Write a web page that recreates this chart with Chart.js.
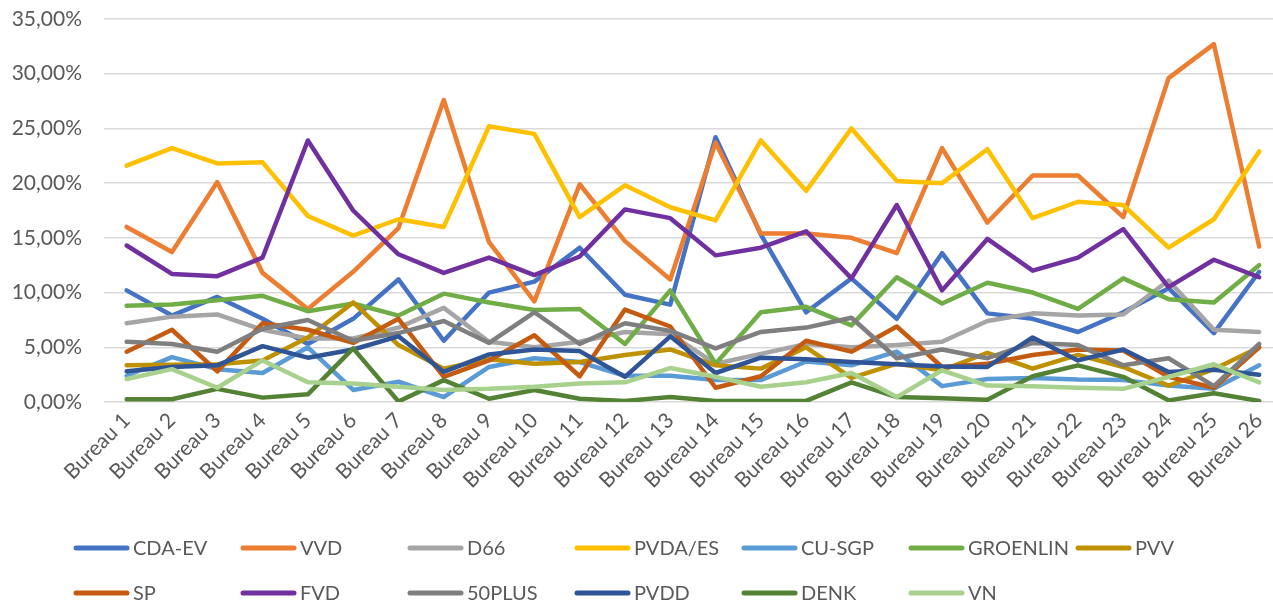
<!DOCTYPE html>
<html>
<head>
<meta charset="utf-8">
<script src="https://cdn.jsdelivr.net/npm/chart.js@4.4.1/dist/chart.umd.min.js"></script>
<style>
  html, body { margin: 0; padding: 0; background: #fff; overflow: hidden; }
  #wrap { width: 1283px; height: 605px; }
</style>
</head>
<body>
<div id="wrap"><canvas id="chart" width="1283" height="605"></canvas></div>
<script>
// ===== DATA =====
let bureaus = [];
for (let i = 1; i <= 26; i++) bureaus.push("Bureau " + i);

let parties = ["CDA-EV", "VVD", "D66", "PVDA/ES", "CU-SGP", "GROENLIN", "PVV",
               "SP", "FVD", "50PLUS", "PVDD", "DENK", "VN"];

let cdaEv    = [10.2, 7.9, 9.6, 7.6, 5.3, 7.6, 11.2, 5.6, 10.0, 11.0, 14.1, 9.8, 8.9, 24.2, 15.3, 8.2, 11.3, 7.6, 13.6, 8.1, 7.6, 6.4, 8.2, 10.4, 6.3, 11.9];
let vvd      = [16.0, 13.7, 20.1, 11.8, 8.5, 11.9, 15.9, 27.6, 14.6, 9.2, 19.9, 14.7, 11.2, 23.7, 15.4, 15.4, 15.0, 13.6, 23.2, 16.4, 20.7, 20.7, 16.9, 29.6, 32.7, 14.2];
let d66      = [7.2, 7.8, 8.0, 6.6, 5.8, 5.8, 6.8, 8.6, 5.5, 5.0, 5.5, 6.4, 6.2, 3.5, 4.4, 5.3, 5.0, 5.2, 5.5, 7.4, 8.1, 7.9, 8.0, 11.1, 6.6, 6.4];
let pvdaEs   = [21.6, 23.2, 21.8, 21.9, 17.0, 15.2, 16.7, 16.0, 25.2, 24.5, 16.9, 19.8, 17.8, 16.6, 23.9, 19.3, 25.0, 20.2, 20.0, 23.1, 16.8, 18.3, 18.0, 14.1, 16.7, 22.9];
let cuSgp    = [2.4, 4.1, 3.0, 2.65, 5.0, 1.1, 1.85, 0.45, 3.2, 4.0, 3.65, 2.4, 2.4, 2.0, 2.0, 3.7, 3.35, 4.6, 1.45, 2.1, 2.2, 2.05, 2.0, 1.5, 1.2, 3.35];
let groenlin = [8.8, 8.9, 9.3, 9.7, 8.3, 9.0, 7.9, 9.9, 9.1, 8.4, 8.5, 5.3, 10.2, 3.5, 8.2, 8.7, 7.0, 11.4, 9.0, 10.9, 10.0, 8.5, 11.3, 9.4, 9.1, 12.5];
let pvv      = [3.35, 3.4, 3.45, 3.8, 5.9, 9.1, 5.2, 3.05, 3.9, 3.5, 3.65, 4.3, 4.8, 3.35, 3.05, 5.0, 2.2, 3.5, 2.9, 4.5, 3.05, 4.3, 3.2, 1.5, 3.0, 5.0];
let sp       = [4.6, 6.6, 2.8, 7.2, 6.6, 5.4, 7.6, 2.3, 3.8, 6.1, 2.35, 8.45, 6.9, 1.3, 2.35, 5.6, 4.6, 6.9, 3.2, 3.5, 4.3, 4.8, 4.7, 2.3, 1.3, 5.0];
let fvd      = [14.3, 11.7, 11.5, 13.2, 23.9, 17.5, 13.5, 11.8, 13.2, 11.6, 13.3, 17.6, 16.8, 13.4, 14.1, 15.6, 11.3, 18.0, 10.2, 14.9, 12.0, 13.2, 15.8, 10.5, 13.0, 11.4];
let plus50   = [5.5, 5.3, 4.6, 6.7, 7.5, 5.6, 6.3, 7.4, 5.4, 8.2, 5.3, 7.2, 6.5, 4.9, 6.4, 6.8, 7.7, 4.0, 4.8, 4.0, 5.4, 5.2, 3.35, 4.0, 1.45, 5.3];
let pvdd     = [2.8, 3.2, 3.35, 5.1, 4.05, 4.8, 6.0, 2.75, 4.35, 4.8, 4.65, 2.3, 6.0, 2.65, 4.05, 3.9, 3.65, 3.45, 3.25, 3.2, 5.9, 3.8, 4.8, 2.75, 2.95, 2.5];
let denk     = [0.25, 0.25, 1.2, 0.4, 0.7, 4.9, 0.05, 2.0, 0.3, 1.1, 0.3, 0.1, 0.45, 0.1, 0.1, 0.1, 1.8, 0.45, 0.35, 0.2, 2.35, 3.35, 2.3, 0.15, 0.8, 0.1];
let vn       = [2.1, 3.0, 1.3, 3.8, 1.8, 1.7, 1.4, 1.1, 1.2, 1.4, 1.7, 1.8, 3.1, 2.3, 1.4, 1.8, 2.65, 0.45, 2.9, 1.5, 1.45, 1.3, 1.2, 2.3, 3.45, 1.8];

let values = [cdaEv, vvd, d66, pvdaEs, cuSgp, groenlin, pvv, sp, fvd, plus50, pvdd, denk, vn];

let colors = ["#4472C4", "#ED7D31", "#A5A5A5", "#FFC000", "#5B9BD5", "#70AD47", "#BF9000",
              "#C55A11", "#7030A0", "#7F7F7F", "#2F5597", "#548235", "#A9D18E"];

let yMax = 35, yStep = 5;

// ===== STYLE =====
let FONT = "Lato";
let TEXT_COLOR = "#595959";
let GRID_COLOR = "#D9D9D9";

// legend is laid out in fixed columns like the Excel one
let LEGEND_X0 = 74, LEGEND_COL = 167, LEGEND_PER_ROW = 7;
let LEGEND_ROWS_Y = [548, 593];

function pct(v) {
  return v.toFixed(2).replace(".", ",") + "%";
}

// ===== LEGEND PLUGIN =====
let gridLegend = {
  id: "gridLegend",
  afterDraw(chart) {
    let ctx = chart.ctx;
    ctx.save();
    ctx.font = "20px " + FONT;
    ctx.textBaseline = "middle";
    ctx.textAlign = "left";
    chart.data.datasets.forEach((ds, i) => {
      let col = i % LEGEND_PER_ROW;
      let row = Math.floor(i / LEGEND_PER_ROW);
      let x = LEGEND_X0 + col * LEGEND_COL;
      let y = LEGEND_ROWS_Y[row];
      ctx.strokeStyle = ds.borderColor;
      ctx.lineWidth = 5;
      ctx.lineCap = "round";
      ctx.beginPath();
      ctx.moveTo(x + 2, y);
      ctx.lineTo(x + 53, y);
      ctx.stroke();
      ctx.fillStyle = TEXT_COLOR;
      ctx.fillText(ds.label, x + 59, y + 1);
    });
    ctx.restore();
  }
};

// ===== CHART =====
let datasets = parties.map((p, i) => ({
  label: p,
  data: values[i],
  borderColor: colors[i],
  backgroundColor: colors[i],
  borderWidth: 4.5,
  pointRadius: 0,
  pointHoverRadius: 0,
  tension: 0,
  borderJoinStyle: "round",
  borderCapStyle: "round",
  order: parties.length - i   // later series on top, like Excel
}));

new Chart(document.getElementById("chart"), {
  type: "line",
  data: { labels: bureaus, datasets: datasets },
  options: {
    responsive: false,
    animation: false,
    devicePixelRatio: 1,
    layout: { padding: { top: 19, left: 0, right: 0, bottom: 103 } },
    plugins: {
      legend: { display: false },
      tooltip: { enabled: false }
    },
    scales: {
      x: {
        offset: true,
        grid: { display: false, drawTicks: false },
        border: { display: false },
        ticks: {
          color: TEXT_COLOR,
          font: { family: FONT, size: 21 },
          minRotation: 45,
          maxRotation: 45,
          autoSkip: false,
          padding: 6
        },
        afterFit: s => { s.height = 100; }
      },
      y: {
        min: 0,
        max: yMax,
        grid: { color: GRID_COLOR, lineWidth: 1.5, drawTicks: false },
        border: { display: false },
        ticks: {
          stepSize: yStep,
          color: TEXT_COLOR,
          font: { family: FONT, size: 21 },
          padding: 22,
          callback: v => pct(v)
        },
        // fixed width; drop the extra top/bottom room the tick padding asks for
        afterFit: s => { s.width = 104; s.paddingTop = 0; s.paddingBottom = 0; }
      }
    }
  },
  plugins: [gridLegend]
});
</script>
</body>
</html>
